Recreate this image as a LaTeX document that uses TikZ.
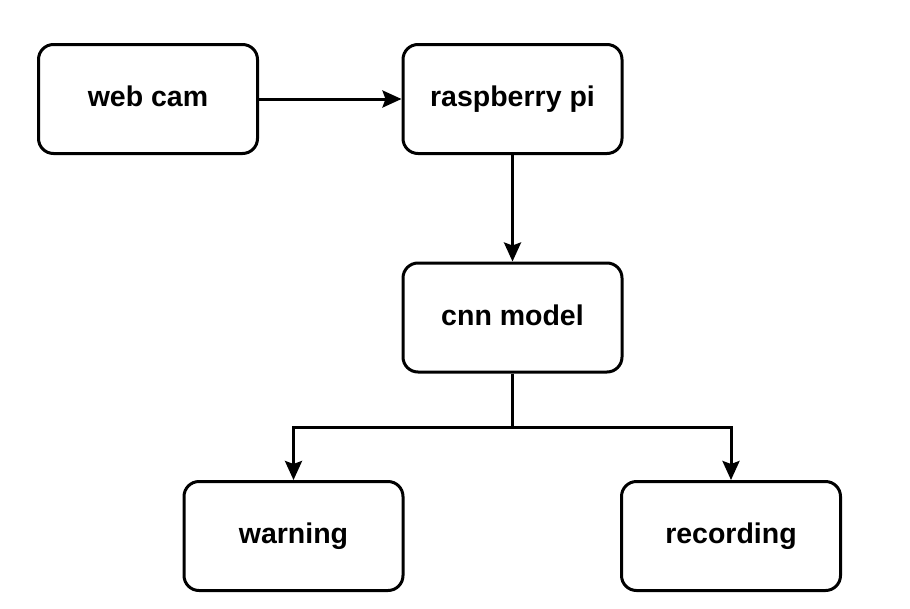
\documentclass[tikz,border=0pt]{standalone}
\usepackage{fontspec}
\setmainfont{Liberation Sans}
\usetikzlibrary{arrows.meta}
\begin{document}
\begin{tikzpicture}[x=1pt,y=-1pt,
  box/.style={draw=black, line width=3pt, rounded corners=15pt, fill=white,
    minimum width=219pt, minimum height=109pt, inner sep=0pt,
    text height=20pt, text depth=5pt,
    font=\fontsize{28.5}{32}\selectfont\bfseries},
  conn/.style={line width=3pt, -{Stealth[length=19pt,width=17pt,inset=3pt]}},
  line/.style={line width=3pt}]
\useasboundingbox (0,0) rectangle (910,608);
\node[box] (cam) at (148,99) {web cam};
\node[box] (pi) at (512.5,99) {raspberry pi};
\node[box] (cnn) at (512.5,317.5) {cnn model};
\node[box] (warn) at (293.5,536) {warning};
\node[box] (rec) at (731,536) {recording};
\coordinate (j) at (512.5,427);
\draw[conn] (cam) -- (pi);
\draw[conn] (pi) -- (cnn);
\draw[line] (cnn) -- (j);
\draw[conn] (j) -| (warn);
\draw[conn] (j) -| (rec);
\end{tikzpicture}
\end{document}
